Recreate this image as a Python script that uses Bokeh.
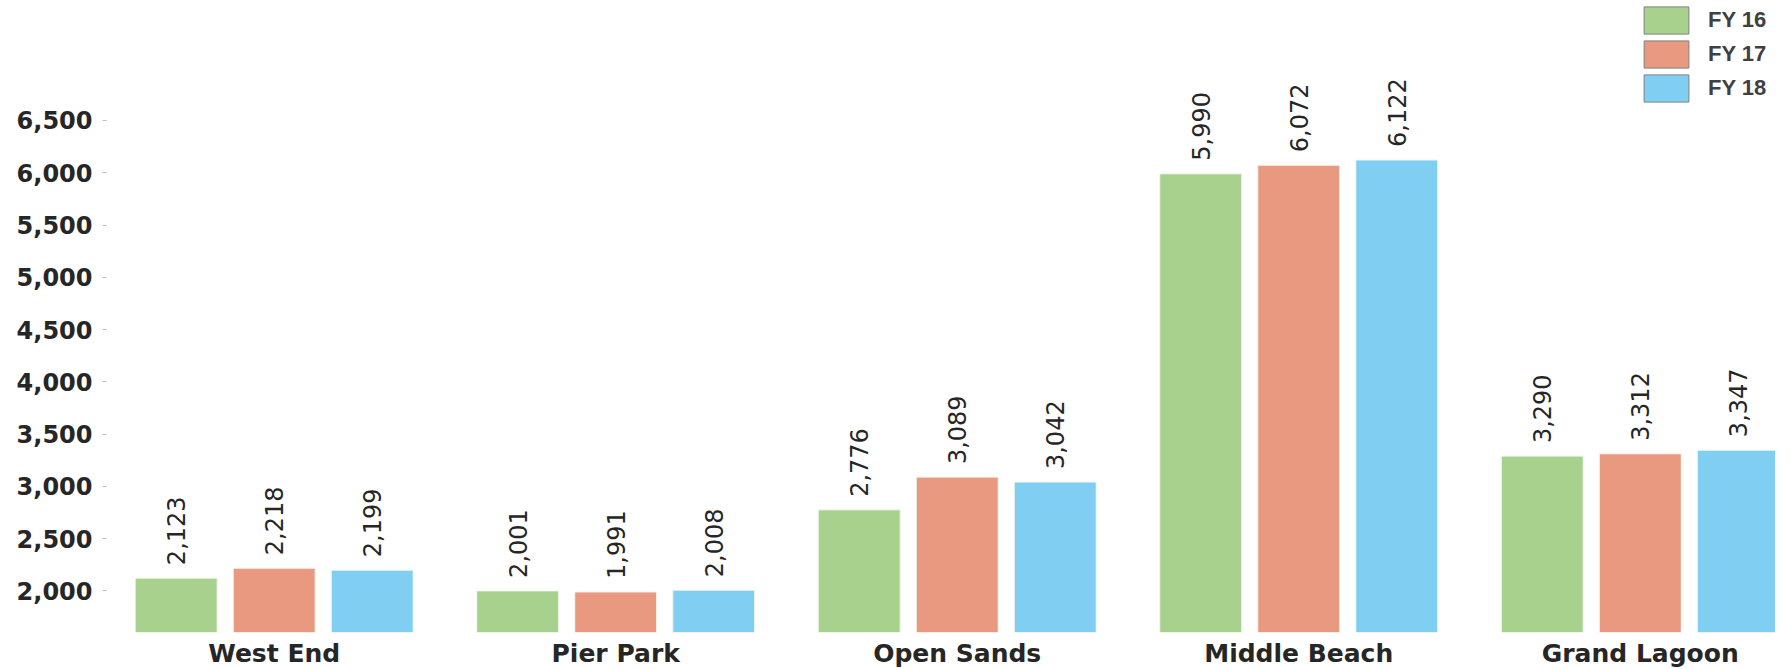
import math
from bokeh.plotting import figure
from bokeh.models import (ColumnDataSource, Range1d, FixedTicker, NumeralTickFormatter,
                          Legend, LegendItem)
from bokeh.core.properties import value
from bokeh.embed import file_html
from bokeh.resources import INLINE

# ---- data ----
locations = ["West End", "Pier Park", "Open Sands", "Middle Beach", "Grand Lagoon"]
series_names = ["FY 16", "FY 17", "FY 18"]
fy16 = [2123, 2001, 2776, 5990, 3290]
fy17 = [2218, 1991, 3089, 6072, 3312]
fy18 = [2199, 2008, 3042, 6122, 3347]
y_ticks = [2000, 2500, 3000, 3500, 4000, 4500, 5000, 5500, 6000, 6500]

colors = ["#A9D18E", "#E8997F", "#80CFF3"]
AXFONT = "DejaVu Sans"
LGFONT = "Liberation Sans"

Y0, Y1 = 1603, 7647
p = figure(width=1775, frame_height=632, output_backend="svg", toolbar_location=None,
           x_range=Range1d(-0.491, 4.396), y_range=Range1d(Y0, Y1),
           min_border_left=106, min_border_right=0, min_border_top=0, min_border_bottom=0)

p.outline_line_color = None
p.grid.visible = False
p.background_fill_color = "white"
p.border_fill_color = "white"

bar_w = 0.24
step = 0.287
items = []
for j, (name, vals) in enumerate(zip(series_names, [fy16, fy17, fy18])):
    xs = [i + (j - 1) * step for i in range(len(locations))]
    src = ColumnDataSource(dict(x=xs, top=vals, lab=[f"{v:,}" for v in vals]))
    p.vbar(x="x", top="top", bottom=Y0, width=bar_w, source=src,
           fill_color=colors[j], line_color="#F4F8F0", line_width=1)
    p.text(x="x", y="top", text="lab", source=src, angle=math.pi / 2,
           text_align="left", text_baseline="middle", y_offset=-13,
           text_font=value(AXFONT), text_font_size="24px", text_color="#262626")
    # legend-only renderer (gray outline), hidden from the plot
    dummy = p.vbar(x="x", top="top", bottom=Y0, width=bar_w, source=src,
                   fill_color=colors[j], line_color="#808080", line_width=1,
                   visible=False)
    items.append(LegendItem(label=name, renderers=[dummy]))

legend = Legend(items=items, location=(1532, 527), padding=0, spacing=0, margin=0,
                glyph_width=56, glyph_height=34, label_height=34, label_standoff=14,
                border_line_color=None, background_fill_alpha=0,
                label_text_font=LGFONT, label_text_font_size="22px",
                label_text_font_style="bold", label_text_color="#404040")
p.add_layout(legend)

# y axis
p.yaxis.ticker = FixedTicker(ticks=y_ticks)
p.yaxis.formatter = NumeralTickFormatter(format="0,0")
p.yaxis.axis_line_color = None
p.yaxis.major_tick_out = 4
p.yaxis.major_tick_in = 0
p.yaxis.major_tick_line_color = "#BFBFBF"
p.yaxis.minor_tick_line_color = None
p.yaxis.major_label_standoff = 10
p.yaxis.major_label_text_font = AXFONT
p.yaxis.major_label_text_font_size = "24px"
p.yaxis.major_label_text_font_style = "bold"
p.yaxis.major_label_text_color = "#262626"

# x axis
p.xaxis.ticker = FixedTicker(ticks=list(range(len(locations))))
p.xaxis.major_label_overrides = {i: n for i, n in enumerate(locations)}
p.xaxis.axis_line_color = None
p.xaxis.major_tick_out = 0
p.xaxis.major_tick_in = 0
p.xaxis.major_tick_line_color = None
p.xaxis.minor_tick_line_color = None
p.xaxis.major_label_standoff = 6
p.xaxis.major_label_text_font = AXFONT
p.xaxis.major_label_text_font_size = "25px"
p.xaxis.major_label_text_font_style = "bold"
p.xaxis.major_label_text_color = "#262626"

open("out.html", "w").write(file_html(p, INLINE))
